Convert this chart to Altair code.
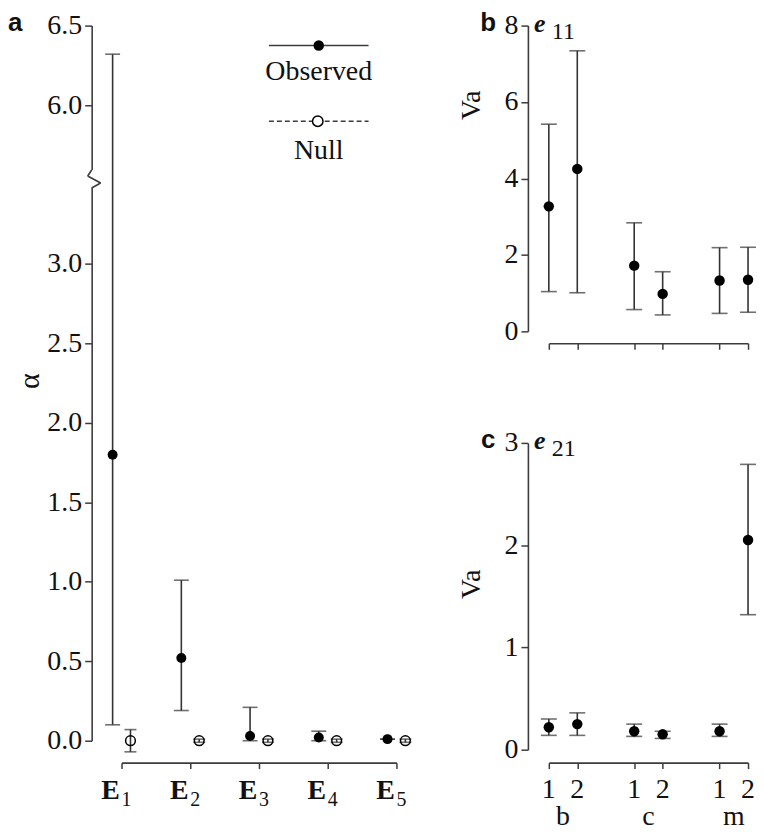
import altair as alt
import pandas as pd

# ---------------- data ----------------
# Panel a: alpha per eigenvector, observed vs null
a_idx = [1, 2, 3, 4, 5]
a_obs = [1.80, 0.52, 0.03, 0.02, 0.01]
a_obs_lo = [0.10, 0.19, 0.00, 0.00, 0.01]
a_obs_hi = [6.32, 1.01, 0.21, 0.06, 0.01]
a_null = [0.00, 0.00, 0.00, 0.00, 0.00]
a_null_lo = [-0.07, -0.01, -0.01, -0.01, -0.01]
a_null_hi = [0.07, 0.01, 0.01, 0.01, 0.01]
a_ticks = [0, 0.5, 1.0, 1.5, 2.0, 2.5, 3.0, 6.0, 6.5]

# Panels b and c
grp = ["b", "b", "c", "c", "m", "m"]
rep = [1, 2, 1, 2, 1, 2]
e11 = [3.27, 4.25, 1.72, 0.98, 1.33, 1.35]
e11_lo = [1.04, 1.01, 0.57, 0.43, 0.47, 0.50]
e11_hi = [5.42, 7.34, 2.84, 1.56, 2.19, 2.20]
e21 = [0.22, 0.25, 0.18, 0.15, 0.18, 2.05]
e21_lo = [0.14, 0.14, 0.13, 0.11, 0.13, 1.32]
e21_hi = [0.30, 0.36, 0.25, 0.18, 0.25, 2.79]
groups = ["b", "c", "m"]

SERIF = "Liberation Serif"
SANS = "Liberation Sans"
AX = "#3c3c3c"
INK = "#111111"
FS = 28


def brk(f):
    # broken axis: values above the break are shifted down by 2 units
    return f"datum.{f} > 3.5 ? datum.{f} - 2 : datum.{f}"


def one(**kw):
    return alt.Chart(pd.DataFrame([kw] if kw else [{"k": 0}]))


def deco_rule(x1, y1, x2, y2, dash=None, w=1.6):
    m = dict(color=AX, strokeWidth=w)
    if dash:
        m["strokeDash"] = dash
    return one().mark_rule(**m).encode(
        x=alt.value(x1), y=alt.value(y1), x2=alt.value(x2), y2=alt.value(y2)
    )


def deco_text(txt, x, y, font=SERIF, size=FS, weight="normal", style="normal",
              align="center", baseline="alphabetic", angle=0):
    return one(t=txt).mark_text(
        font=font, fontSize=size, fontWeight=weight, fontStyle=style,
        align=align, baseline=baseline, color=INK, angle=angle
    ).encode(text="t:N", x=alt.value(x), y=alt.value(y))


def yaxis(values, offset, expr=None):
    kw = dict(
        values=values, offset=offset, title=None,
        labelFont=SERIF, labelFontSize=FS, labelColor=INK, labelPadding=3,
        tickSize=7, tickColor=AX, tickWidth=1.5, domainColor=AX, domainWidth=1.6,
        grid=False,
    )
    if expr:
        kw["labelExpr"] = expr
    return alt.Axis(**kw)


# ---------------- panel a ----------------
WA, HA = 276, 718
dfa = pd.DataFrame({
    "idx": a_idx, "obs": a_obs, "obs_lo": a_obs_lo, "obs_hi": a_obs_hi,
    "nul": a_null, "nul_lo": a_null_lo, "nul_hi": a_null_hi,
})
base_a = alt.Chart(dfa).transform_calculate(
    xo="datum.idx - 0.13", xn="datum.idx + 0.13",
    to=brk("obs"), tol=brk("obs_lo"), toh=brk("obs_hi"),
    tn=brk("nul"), tnl=brk("nul_lo"), tnh=brk("nul_hi"),
)
xa_scale = alt.Scale(domain=[1, 5], nice=False, zero=False)
ya_scale = alt.Scale(domain=[0, 4.5], nice=False, zero=False)
t_ticks = [v if v < 3.5 else v - 2 for v in a_ticks]
xa_axis = alt.Axis(values=a_idx, labels=False, title=None, offset=22, tickSize=6,
                   tickColor=AX, tickWidth=1.5, domainColor=AX, domainWidth=1.6, grid=False)
ya_axis = yaxis(t_ticks, 30,
                expr="format(datum.value < 3.5 ? datum.value : datum.value + 2, '.1f')")

X = lambda f: alt.X(f + ":Q", scale=xa_scale, axis=xa_axis)
Y = lambda f: alt.Y(f + ":Q", scale=ya_scale, axis=ya_axis)
err = dict(color="#333333", strokeWidth=1.6)
cap = dict(color="#333333", thickness=1.6, size=15, orient="horizontal")

a_rule_o = base_a.mark_rule(**err).encode(x=X("xo"), y=Y("tol"), y2="toh:Q")
a_cap_lo = base_a.mark_tick(**cap).encode(x=X("xo"), y=Y("tol"))
a_cap_hi = base_a.mark_tick(**cap).encode(x=X("xo"), y=Y("toh"))
a_pt_o = base_a.mark_point(filled=True, color="black", size=100, opacity=1).encode(
    x=X("xo"), y=Y("to"))
a_rule_n = base_a.mark_rule(**err).encode(x=X("xn"), y=Y("tnl"), y2="tnh:Q")
a_ncap_lo = base_a.mark_tick(**dict(cap, size=12)).encode(x=X("xn"), y=Y("tnl"))
a_ncap_hi = base_a.mark_tick(**dict(cap, size=12)).encode(x=X("xn"), y=Y("tnh"))
a_pt_n = base_a.mark_point(filled=False, color="black", size=95, strokeWidth=1.5, opacity=1).encode(
    x=X("xn"), y=Y("tn"))

# E labels with subscripts
a_lab_E = base_a.mark_text(font=SERIF, fontSize=FS, fontWeight="bold", color=INK,
                           baseline="alphabetic", dx=-11).encode(
    x=X("idx"), text=alt.value("E"), y=alt.value(777))
a_lab_sub = base_a.mark_text(font=SERIF, fontSize=20, color=INK, baseline="alphabetic", dx=5).encode(
    x=X("idx"), text="idx:N", y=alt.value(784))

# axis break zigzag
a_gap = one().mark_rect(color="white").encode(
    x=alt.value(-34), x2=alt.value(-26), y=alt.value(145), y2=alt.value(163))
zz = [(-30, 145), (-34, 151), (-21, 158), (-30, 163)]
a_zig = [deco_rule(zz[i][0], zz[i][1], zz[i + 1][0], zz[i + 1][1]) for i in range(3)]

# legend, panel letter and axis title
deco_a = [
    deco_rule(148, 20, 248, 20),
    one().mark_point(filled=True, color="black", size=110, opacity=1).encode(x=alt.value(198), y=alt.value(20)),
    deco_text("Observed", 198, 55),
    deco_rule(148, 96, 248, 96, dash=[5, 3]),
    one().mark_point(filled=True, fill="white", stroke="black", strokeWidth=1.5, size=110, opacity=1).encode(
        x=alt.value(197), y=alt.value(96)),
    deco_text("Null", 198, 134),
    deco_text("a", -114, 5, font=SANS, size=26, weight="bold", align="left"),
    deco_text("α", -92, 357, size=30, angle=270, baseline="middle"),
]

panel_a = alt.layer(
    a_rule_o, a_cap_lo, a_cap_hi, a_rule_n, a_ncap_lo, a_ncap_hi, a_pt_o, a_pt_n,
    a_lab_E, a_lab_sub, a_gap, *a_zig, *deco_a
).properties(width=WA, height=HA)

# ---------------- panels b and c ----------------
WB = 200
dfb = pd.DataFrame({"grp": grp, "rep": rep, "e11": e11, "e11_lo": e11_lo, "e11_hi": e11_hi,
                    "e21": e21, "e21_lo": e21_lo, "e21_hi": e21_hi})
xb_scale = alt.Scale(domain=[0, 7], nice=False, zero=False)
pos_vals = [0, 1, 3, 4, 6, 7]


def small_panel(var, ymax, yvals, height, letter, sub, title_y, show_labels, xoff):
    base = alt.Chart(dfb).transform_calculate(
        pos="indexof(['b','c','m'], datum.grp) * 3 + datum.rep - 1")
    xaxis = alt.Axis(values=pos_vals, title=None, offset=xoff, tickSize=6, tickColor=AX,
                     tickWidth=1.5, domainColor=AX, domainWidth=1.6, grid=False, labels=False)
    ysc = alt.Scale(domain=[0, ymax], nice=False, zero=True)
    yax = yaxis(yvals, 21)
    xe = alt.X("pos:Q", scale=xb_scale, axis=xaxis)
    ye = lambda f: alt.Y(f + ":Q", scale=ysc, axis=yax)
    rule = base.mark_rule(**err).encode(x=xe, y=ye(f"{var}_lo"), y2=f"{var}_hi:Q")
    c1 = base.mark_tick(**dict(cap, size=16)).encode(x=xe, y=ye(f"{var}_lo"))
    c2 = base.mark_tick(**dict(cap, size=16)).encode(x=xe, y=ye(f"{var}_hi"))
    pt = base.mark_point(filled=True, color="black", size=110, opacity=1).encode(x=xe, y=ye(var))
    layers = [rule, c1, c2, pt,
              deco_text(letter, -61, 5, font=SANS, size=26, weight="bold"),
              deco_text("e", -15, 6, size=26, weight="bold", style="italic", align="left"),
              deco_text(sub, 3, 13, size=24, align="left"),
              deco_text("Va", -77, title_y, size=FS, angle=270, baseline="middle")]
    if show_labels:
        # replicate numbers under each tick
        layers.append(base.mark_text(font=SERIF, fontSize=FS, color=INK, baseline="alphabetic").encode(
            x=xe, text="rep:N", y=alt.value(height + 49)))
        g = pd.DataFrame({"g": groups, "p": [0.5, 3.5, 6.5]})
        layers.append(alt.Chart(g).mark_text(font=SERIF, fontSize=FS, color=INK, baseline="alphabetic").encode(
            x=alt.X("p:Q", scale=xb_scale, axis=xaxis), text="g:N", y=alt.value(height + 76)))
    return alt.layer(*layers).properties(width=WB, height=height)


panel_b = small_panel("e11", 8, [0, 2, 4, 6, 8], 307, "b", "11", 80, False, 12)
panel_c = small_panel("e21", 3, [0, 1, 2, 3], 308, "c", "21", 142, True, 13)

right = alt.vconcat(panel_b, panel_c, spacing=112, bounds="flush")
chart = alt.hconcat(panel_a, right, spacing=45).properties(padding=0).configure_view(strokeWidth=0)

chart.save("out.html", embed_options={"renderer": "svg", "actions": False})
